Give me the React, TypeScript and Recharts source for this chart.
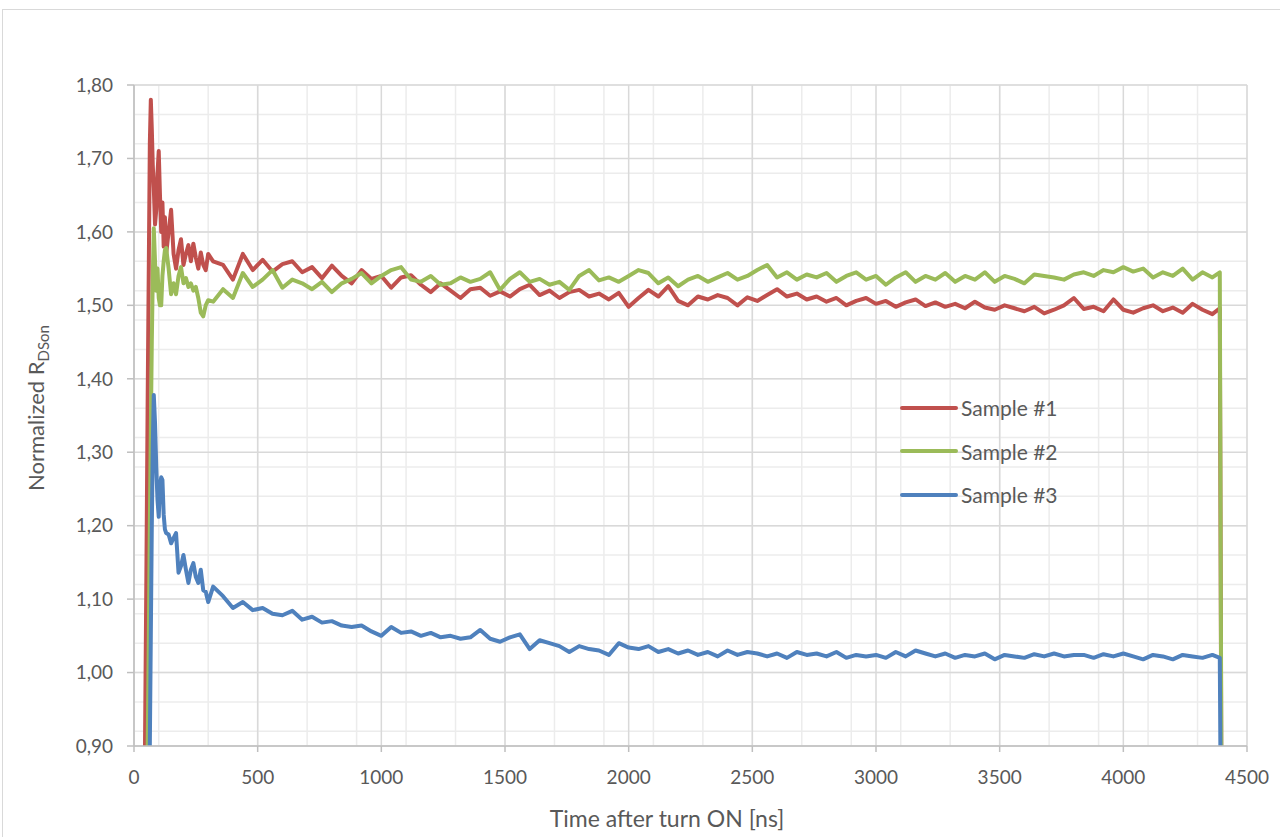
import React from "react"
import {
  LineChart,
  Line,
  XAxis,
  YAxis,
  CartesianGrid,
  Legend,
} from "recharts"

// Time axis samples (ns): fine steps around turn ON, then every 40 ns
const timeNs = [
  0, 44, 50, 55, 60, 64, 68, 72, 76, 80,
  85, 90, 95, 100, 105, 110, 115, 120, 125, 130,
  140, 150, 160, 170, 180, 190, 200, 210, 220, 230,
  240, 250, 260, 270, 280, 290, 300, 320,
  360, 400, 440, 480, 520, 560, 600, 640, 680, 720,
  760, 800, 840, 880, 920, 960, 1000, 1040, 1080, 1120,
  1160, 1200, 1240, 1280, 1320, 1360, 1400, 1440, 1480, 1520,
  1560, 1600, 1640, 1680, 1720, 1760, 1800, 1840, 1880, 1920,
  1960, 2000, 2040, 2080, 2120, 2160, 2200, 2240, 2280, 2320,
  2360, 2400, 2440, 2480, 2520, 2560, 2600, 2640, 2680, 2720,
  2760, 2800, 2840, 2880, 2920, 2960, 3000, 3040, 3080, 3120,
  3160, 3200, 3240, 3280, 3320, 3360, 3400, 3440, 3480, 3520,
  3560, 3600, 3640, 3680, 3720, 3760, 3800, 3840, 3880, 3920,
  3960, 4000, 4040, 4080, 4120, 4160, 4200, 4240, 4280, 4320,
  4360, 4390, 4400,
]

const sample1 = [
  0.5, 0.88, 1.13, 1.36, 1.56, 1.72, 1.78, 1.74, 1.69, 1.66,
  1.61, 1.63, 1.68, 1.71, 1.65, 1.6, 1.64, 1.58, 1.62, 1.57,
  1.6, 1.63, 1.57, 1.55, 1.575, 1.59, 1.555, 1.57, 1.582, 1.56,
  1.584, 1.565, 1.55, 1.572, 1.555, 1.548, 1.57, 1.56,
  1.555, 1.535, 1.57, 1.548, 1.562, 1.546, 1.556, 1.56, 1.545, 1.552,
  1.537, 1.554, 1.54, 1.53, 1.548, 1.536, 1.54, 1.524, 1.538, 1.541,
  1.528, 1.518, 1.53, 1.52, 1.51, 1.522, 1.524, 1.513, 1.519, 1.512,
  1.522, 1.528, 1.514, 1.52, 1.51, 1.518, 1.521, 1.512, 1.516, 1.508,
  1.517, 1.498, 1.51, 1.521, 1.512, 1.526, 1.506, 1.5, 1.512, 1.508,
  1.514, 1.51, 1.5, 1.511, 1.506, 1.514, 1.522, 1.512, 1.516, 1.508,
  1.512, 1.505, 1.51, 1.5, 1.506, 1.51, 1.502, 1.506, 1.498, 1.504,
  1.508, 1.499, 1.504, 1.498, 1.502, 1.496, 1.505, 1.497, 1.494, 1.5,
  1.496, 1.492, 1.498, 1.489, 1.494, 1.5, 1.51, 1.495, 1.498, 1.492,
  1.508, 1.494, 1.49, 1.496, 1.5, 1.492, 1.497, 1.49, 1.502, 1.494,
  1.488, 1.496, 0.5,
]

const sample2 = [
  0.5, 0.5, 0.7, 0.89, 1.05, 1.2, 1.33, 1.45, 1.54, 1.605,
  1.56, 1.52, 1.55, 1.51, 1.5, 1.5, 1.54, 1.56, 1.575, 1.578,
  1.55, 1.515, 1.53, 1.515, 1.54, 1.552, 1.53, 1.537, 1.525, 1.53,
  1.52, 1.525, 1.51, 1.49, 1.485, 1.5, 1.507, 1.505,
  1.522, 1.51, 1.544, 1.525, 1.535, 1.548, 1.524, 1.535, 1.53, 1.522,
  1.532, 1.518, 1.53, 1.536, 1.544, 1.53, 1.54, 1.548, 1.552, 1.535,
  1.532, 1.54, 1.528, 1.53, 1.538, 1.532, 1.536, 1.545, 1.521, 1.536,
  1.545, 1.532, 1.536, 1.528, 1.532, 1.521, 1.54, 1.548, 1.534, 1.538,
  1.532, 1.54, 1.548, 1.544, 1.53, 1.538, 1.526, 1.535, 1.54, 1.532,
  1.538, 1.544, 1.535, 1.54, 1.548, 1.555, 1.538, 1.545, 1.535, 1.542,
  1.538, 1.544, 1.532, 1.54, 1.545, 1.535, 1.54, 1.528, 1.538, 1.545,
  1.532, 1.54, 1.535, 1.544, 1.532, 1.54, 1.535, 1.545, 1.532, 1.54,
  1.536, 1.53, 1.542, 1.54, 1.538, 1.535, 1.542, 1.545, 1.54, 1.548,
  1.545, 1.552, 1.546, 1.55, 1.538, 1.545, 1.54, 1.55, 1.535, 1.545,
  1.538, 1.545, 0.5,
]

const sample3 = [
  0.5, 0.5, 0.5, 0.6, 0.8, 0.9, 1.05, 1.2, 1.31, 1.378,
  1.34, 1.28, 1.235, 1.212, 1.255, 1.266, 1.262, 1.215, 1.195, 1.19,
  1.188, 1.176, 1.183, 1.19, 1.136, 1.145, 1.16, 1.14, 1.122, 1.14,
  1.149, 1.13, 1.122, 1.14, 1.112, 1.11, 1.096, 1.117,
  1.104, 1.088, 1.096, 1.085, 1.088, 1.08, 1.078, 1.084, 1.072, 1.076,
  1.068, 1.07, 1.064, 1.062, 1.064, 1.056, 1.05, 1.062, 1.054, 1.056,
  1.05, 1.054, 1.048, 1.05, 1.046, 1.048, 1.058, 1.046, 1.042, 1.048,
  1.052, 1.032, 1.044, 1.04, 1.036, 1.028, 1.036, 1.032, 1.03, 1.024,
  1.04, 1.034, 1.032, 1.036, 1.028, 1.032, 1.026, 1.03, 1.024, 1.028,
  1.022, 1.03, 1.024, 1.028, 1.026, 1.022, 1.026, 1.02, 1.028, 1.024,
  1.026, 1.022, 1.028, 1.02, 1.024, 1.022, 1.024, 1.02, 1.028, 1.022,
  1.03, 1.026, 1.022, 1.026, 1.02, 1.024, 1.022, 1.026, 1.018, 1.024,
  1.022, 1.02, 1.025, 1.022, 1.026, 1.022, 1.024, 1.024, 1.02, 1.025,
  1.022, 1.026, 1.022, 1.018, 1.024, 1.022, 1.018, 1.024, 1.022, 1.02,
  1.024, 1.02, 0.5,
]

const xTicks = [0, 500, 1000, 1500, 2000, 2500, 3000, 3500, 4000, 4500]
const yTicks = [0.9, 1.0, 1.1, 1.2, 1.3, 1.4, 1.5, 1.6, 1.7, 1.8]

const seriesNames = ["Sample #1", "Sample #2", "Sample #3"]
const seriesColors = ["#c0504d", "#9bbb59", "#4f81bd"]

// minor gridlines (every 100 ns / 0.02)
const xMinor = Array.from({ length: 46 }, (_, i) => i * 100)
const yMinor = Array.from({ length: 46 }, (_, i) => +(0.9 + i * 0.02).toFixed(2))

const FONT = "Lato, 'Open Sans', sans-serif"
const TEXT = "#595959"

const chartData = timeNs.map((t, i) => ({
  t,
  s1: sample1[i],
  s2: sample2[i],
  s3: sample3[i],
}))

function LegendBox() {
  return (
    <div style={{ fontFamily: FONT }}>
      {seriesNames.map((name, i) => (
        <div
          key={name}
          style={{ height: 43.5, display: "flex", alignItems: "center" }}
        >
          <svg width={58} height={8}>
            <line
              x1={2}
              y1={4}
              x2={56}
              y2={4}
              stroke={seriesColors[i]}
              strokeWidth={4}
              strokeLinecap="round"
            />
          </svg>
          <span style={{ marginLeft: 3, fontSize: 21, color: TEXT }}>
            {name}
          </span>
        </div>
      ))}
    </div>
  )
}

export default function App() {
  return (
    <div
      style={{
        position: "absolute",
        left: 0,
        top: 0,
        width: 1280,
        height: 837,
        background: "#fff",
        overflow: "hidden",
      }}
    >
      <div
        style={{
          position: "absolute",
          left: 2,
          top: 9,
          width: 1300,
          height: 900,
          border: "1px solid #d9d9d9",
        }}
      />
      <div style={{ position: "absolute", left: 0, top: 0 }}>
        <LineChart
          width={1280}
          height={837}
          data={chartData}
          margin={{ top: 85, right: 33, bottom: 0, left: 0 }}
        >
          <CartesianGrid
            stroke="#ececec"
            strokeWidth={1.5}
            horizontalValues={yMinor}
            verticalValues={xMinor}
          />
          <CartesianGrid stroke="#d9d9d9" strokeWidth={1.5} />
          <XAxis
            dataKey="t"
            type="number"
            domain={[0, 4500]}
            ticks={xTicks}
            height={91}
            tickSize={6}
            tickMargin={19}
            stroke="#bfbfbf"
            strokeWidth={1.5}
            tick={{ fill: TEXT, fontSize: 19, fontFamily: FONT }}
            label={{
              content: () => (
                <text
                  x={667}
                  y={827}
                  textAnchor="middle"
                  fill={TEXT}
                  fontSize={23}
                  fontFamily={FONT}
                >
                  Time after turn ON [ns]
                </text>
              ),
            }}
          />
          <YAxis
            type="number"
            domain={[0.9, 1.8]}
            ticks={yTicks}
            allowDataOverflow
            width={134}
            tickSize={7}
            tickMargin={14}
            stroke="#bfbfbf"
            strokeWidth={1.5}
            tickFormatter={(v) => v.toFixed(2).replace(".", ",")}
            tick={{ fill: TEXT, fontSize: 19, fontFamily: FONT }}
            label={{
              content: () => (
                <text
                  x={44}
                  y={408}
                  transform="rotate(-90, 44, 408)"
                  textAnchor="middle"
                  fill={TEXT}
                  fontSize={22}
                  fontFamily={FONT}
                >
                  Normalized R
                  <tspan fontSize={15} dy={5}>
                    DSon
                  </tspan>
                </text>
              ),
            }}
          />
          <Legend
            layout="vertical"
            align="center"
            verticalAlign="middle"
            content={() => <LegendBox />}
            wrapperStyle={{ left: 900, top: 386, width: 200 }}
          />
          {["s1", "s2", "s3"].map((key, i) => (
            <Line
              key={key}
              type="linear"
              dataKey={key}
              name={seriesNames[i]}
              stroke={seriesColors[i]}
              strokeWidth={4}
              strokeLinejoin="round"
              dot={false}
              activeDot={false}
              isAnimationActive={false}
            />
          ))}
        </LineChart>
      </div>
    </div>
  )
}
